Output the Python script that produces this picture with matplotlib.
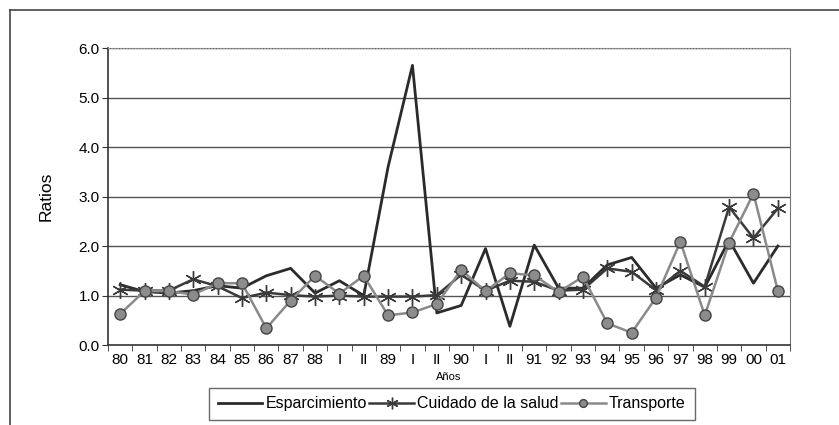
import matplotlib.pyplot as plt
from matplotlib.lines import Line2D

plt.rcParams['font.family'] = ['Liberation Sans', 'DejaVu Sans']

# ---- data ----
periodos = ['80', '81', '82', '83', '84', '85', '86', '87', '88', 'I', 'II',
            '89', 'I', 'II', '90', 'I', 'II', '91', '92', '93', '94', '95',
            '96', '97', '98', '99', '00', '01']

esparcimiento = [1.22, 1.08, 1.05, 1.1, 1.2, 1.15, 1.4, 1.55, 1.05, 1.3, 1.0,
                 3.6, 5.65, 0.65, 0.8, 1.95, 0.38, 2.02, 1.15, 1.15, 1.62, 1.77,
                 1.15, 1.42, 1.17, 2.12, 1.25, 2.0]
salud = [1.12, 1.1, 1.1, 1.33, 1.19, 0.95, 1.06, 1.01, 0.98, 1.0, 0.98,
         0.98, 0.98, 1.01, 1.42, 1.1, 1.3, 1.28, 1.1, 1.12, 1.55, 1.48,
         1.11, 1.5, 1.18, 2.79, 2.16, 2.76]
transporte = [0.63, 1.09, 1.09, 1.02, 1.25, 1.25, 0.34, 0.9, 1.4, 1.04, 1.4,
              0.6, 0.66, 0.83, 1.52, 1.09, 1.45, 1.41, 1.07, 1.38, 0.44, 0.25,
              0.96, 2.09, 0.6, 2.07, 3.06, 1.1]

x = list(range(len(periodos)))

fig = plt.figure(figsize=(8.39, 4.25), dpi=100)
ax = fig.add_axes([0.1287, 0.188, 0.8129, 0.699])

# outer frame (top and left edges visible in the scan)
fig.add_artist(Line2D([0.012, 1.0], [0.977, 0.977], color='#444444', lw=1.2))
fig.add_artist(Line2D([0.012, 0.012], [0.0, 0.977], color='#444444', lw=1.2))

# grid lines
for v in range(1, 7):
    ax.axhline(v, color='#555555', lw=1.0, zorder=0)

star = (6, 2, 0)
ax.plot(x, esparcimiento, color='#2b2b2b', lw=2.0, label='Esparcimiento', zorder=3)
ax.plot(x, salud, color='#3a3a3a', lw=1.8, marker=star, markersize=12,
        markeredgewidth=1.0, label='Cuidado de la salud', zorder=4)
ax.plot(x, transporte, color='#8a8a8a', lw=1.8, marker='o', markersize=8,
        markerfacecolor='#8c8c8c', markeredgecolor='#444444',
        markeredgewidth=1.0, label='Transporte', zorder=5)

ax.set_xlim(-0.5, len(periodos) - 0.5)
ax.set_ylim(0, 6)
ax.set_yticks(range(0, 7))
ax.set_yticklabels(['%.1f' % v for v in range(0, 7)], fontsize=11)
ax.set_xticks(x)
ax.set_xticklabels(periodos, fontsize=11)
ax.set_xticks([i - 0.5 for i in range(len(periodos) + 1)], minor=True)
ax.tick_params(axis='x', which='major', length=0, pad=6)
ax.tick_params(axis='x', which='minor', length=4, color='#333333')
ax.tick_params(axis='y', length=4, color='#333333', pad=2)

ax.spines['left'].set_color('#333333')
ax.spines['bottom'].set_color('#333333')
ax.spines['left'].set_linewidth(1.2)
ax.spines['bottom'].set_linewidth(1.2)
ax.spines['right'].set_color('#777777')
ax.spines['top'].set_color('#999999')
ax.spines['top'].set_linestyle(':')

ax.set_ylabel('Ratios', fontsize=12.5, labelpad=18)
ax.set_xlabel('Años', fontsize=8, labelpad=3)

leg = ax.legend(loc='upper center', bbox_to_anchor=(0.504, -0.143), ncol=3,
                frameon=True, fancybox=False, fontsize=11.5, handlelength=2.8,
                handletextpad=0.2, columnspacing=0.15, borderpad=0.55,
                borderaxespad=0, markerscale=0.7)
leg.get_frame().set_edgecolor('#444444')
leg.get_frame().set_linewidth(1.0)

plt.savefig('out.png', dpi=100)
